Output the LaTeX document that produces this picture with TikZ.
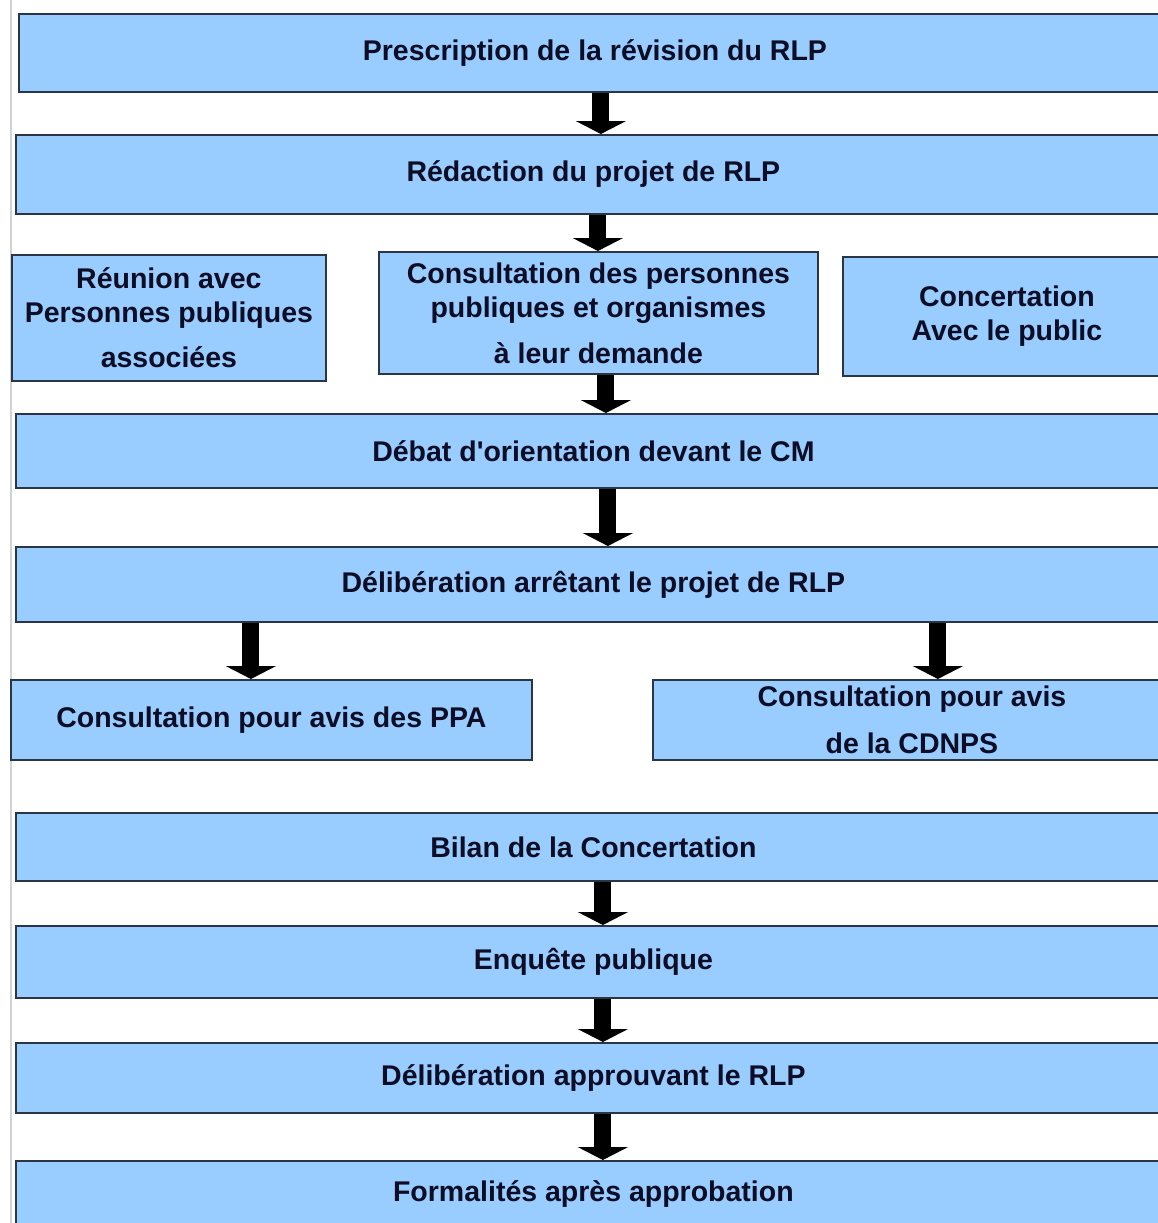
\documentclass[tikz,border=0pt]{standalone}
\usepackage{fontspec}
\setmainfont{Liberation Sans}
\usetikzlibrary{arrows.meta}

\definecolor{stagefill}{HTML}{99CCFF}
\definecolor{stageline}{HTML}{2B3645}
\definecolor{stagetext}{HTML}{0D0D26}

\begin{document}
\begin{tikzpicture}[
  x=1pt,
  y=-1pt,
  stage/.style={draw=stageline, fill=stagefill, line width=1.8pt, anchor=north west, align=center, inner sep=0pt, text=stagetext, font=\fontsize{28.5}{34}\selectfont\bfseries},
  blockarr/.style={-{Triangle[width=50pt, length=13pt]}, line width=17pt, black}
]
\useasboundingbox (0,0) rectangle (1158,1223);
\clip (0,0) rectangle (1158,1223);

% page edge
\draw[gray!35, line width=1.5pt] (11,0) -- (11,1223);

\node[stage, minimum width=1152pt, minimum height=78pt] (presc) at (18,13) {Prescription de la révision du RLP};
\node[stage, minimum width=1155pt, minimum height=79pt] (redac) at (15,134) {Rédaction du projet de RLP};

\node[stage, minimum width=314pt, minimum height=126pt] (reunion) at (11,254) {Réunion avec\\Personnes publiques\\[11pt]associées};
\node[stage, minimum width=439pt, minimum height=122pt] (consult) at (378,251) {Consultation des personnes\\publiques et organismes\\[12pt]à leur demande};
\node[stage, minimum width=328pt, minimum height=119pt] (concert) at (842,256) {Concertation\\Avec le public};

\node[stage, minimum width=1155pt, minimum height=74pt] (debat) at (15,413) {Débat d\textquotesingle orientation devant le CM};
\node[stage, minimum width=1155pt, minimum height=75pt] (arret) at (15,546) {Délibération arrêtant le projet de RLP};

\node[stage, minimum width=521pt, minimum height=80pt] (ppa) at (10,679) {Consultation pour avis des PPA};
\node[stage, minimum width=518pt, minimum height=80pt] (cdnps) at (652,679) {Consultation pour avis\\[13pt]de la CDNPS};

\node[stage, minimum width=1155pt, minimum height=68pt] (bilan) at (15,812) {Bilan de la Concertation};
\node[stage, minimum width=1155pt, minimum height=72pt] (enquete) at (15,925) {Enquête publique};
\node[stage, minimum width=1155pt, minimum height=70pt] (approb) at (15,1042) {Délibération approuvant le RLP};
\node[stage, minimum width=1155pt, minimum height=66pt] (formal) at (15,1160) {Formalités après approbation};

\draw[blockarr] ([xshift=6pt]presc.south) -- ([xshift=6pt]presc.south |- redac.north);
\draw[blockarr] ([xshift=4.5pt]redac.south) -- ([xshift=4.5pt]redac.south |- consult.north);
\draw[blockarr] ([xshift=7.5pt]consult.south) -- ([xshift=7.5pt]consult.south |- debat.north);
\draw[blockarr] ([xshift=14.5pt]debat.south) -- ([xshift=14.5pt]debat.south |- arret.north);
\draw[blockarr] ([xshift=-342.5pt]arret.south) -- ([xshift=-342.5pt]arret.south |- ppa.north);
\draw[blockarr] ([xshift=344.5pt]arret.south) -- ([xshift=344.5pt]arret.south |- cdnps.north);
\draw[blockarr] ([xshift=9.5pt]bilan.south) -- ([xshift=9.5pt]bilan.south |- enquete.north);
\draw[blockarr] ([xshift=9.5pt]enquete.south) -- ([xshift=9.5pt]enquete.south |- approb.north);
\draw[blockarr] ([xshift=9.5pt]approb.south) -- ([xshift=9.5pt]approb.south |- formal.north);

\end{tikzpicture}
\end{document}
